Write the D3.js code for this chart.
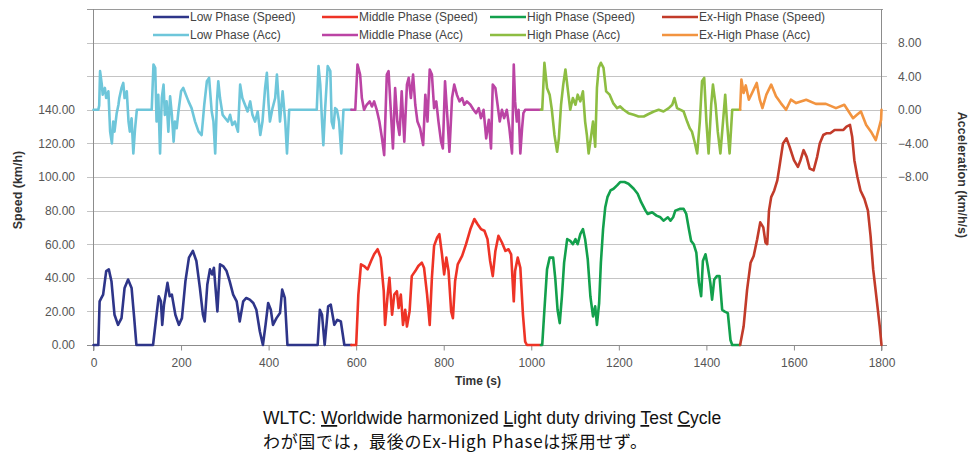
<!DOCTYPE html>
<html><head><meta charset="utf-8">
<script src="https://cdn.jsdelivr.net/npm/d3@7"></script>
<style>body{margin:0;background:#fff}svg{display:block}</style>
</head><body>
<svg id="c" width="971" height="455"></svg>
<script>
const xTicks = [0,200,400,600,800,1000,1200,1400,1600,1800];
const speedTicks = [0,20,40,60,80,100,120,140];
const gridTicks = [0,20,40,60,80,100,120,140,160,180];
const accTicks = [8,4,0,-4,-8];

const lowSpeed = [[0,0],[11,0],[14,26],[18,28],[22,30],[29,44],[35,45],[41,38],[48,18],[56,12],[64,16],[71,34],[79,39],[87,34],[93,16],[98,0],[136,0],[144,18],[149,29],[154,26],[157,12],[161,24],[169,37],[174,29],[179,30],[187,18],[195,12],[202,16],[210,38],[218,52],[227,56],[235,50],[243,34],[250,18],[254,14],[260,36],[266,45],[271,42],[275,46],[283,20],[289,48],[296,47],[304,44],[311,38],[319,30],[327,26],[334,14],[342,26],[349,28],[357,27],[365,25],[372,21],[380,8],[387,0],[393,12],[399,25],[405,21],[410,12],[418,16],[426,19],[431,33],[437,28],[443,0],[512,0],[517,21],[522,18],[528,0],[536,23],[542,24],[550,12],[557,15],[565,14],[573,0],[589,0]];
const middleSpeed = [[589,0],[600,0],[605,30],[611,48],[618,47],[626,45],[634,50],[641,54],[649,57],[656,52],[663,32],[666,12],[672,30],[676,40],[682,18],[687,30],[693,32],[697,22],[702,30],[707,12],[712,21],[716,11],[722,20],[727,41],[735,44],[742,47],[750,49],[755,46],[762,30],[768,12],[773,40],[778,59],[785,64],[790,66],[796,54],[801,42],[806,52],[811,44],[817,20],[821,16],[826,38],[832,48],[842,53],[851,60],[861,69],[870,75],[877,72],[885,69],[893,68],[900,63],[906,50],[912,41],[918,56],[925,65],[933,61],[941,56],[948,57],[954,54],[960,26],[963,44],[969,52],[975,46],[981,18],[986,2],[990,0],[1022,0]];
const highSpeed = [[1022,0],[1025,0],[1030,21],[1036,45],[1042,52],[1050,52],[1055,39],[1060,21],[1065,13],[1070,29],[1075,49],[1082,63],[1089,62],[1095,60],[1101,63],[1106,60],[1112,66],[1118,69],[1123,63],[1129,51],[1135,29],[1141,17],[1146,23],[1150,12],[1155,25],[1159,49],[1164,69],[1169,82],[1174,88],[1181,92],[1188,93],[1196,95],[1203,97],[1213,97],[1222,96],[1234,93],[1243,90],[1251,85],[1261,80],[1266,78],[1276,79],[1286,77],[1295,76],[1302,74],[1312,76],[1318,74],[1324,76],[1329,80],[1339,81],[1348,81],[1354,78],[1360,69],[1365,62],[1371,60],[1377,55],[1383,37],[1388,29],[1392,50],[1398,54],[1403,47],[1409,37],[1413,27],[1418,39],[1424,41],[1430,41],[1436,21],[1441,20],[1449,19],[1455,3],[1459,0],[1477,0]];
const exHighSpeed = [[1477,0],[1485,11],[1493,33],[1501,49],[1508,53],[1516,63],[1523,73],[1530,70],[1535,61],[1539,60],[1543,80],[1548,88],[1555,92],[1562,98],[1568,108],[1575,120],[1583,123],[1590,118],[1600,110],[1609,106],[1615,110],[1622,116],[1629,112],[1636,105],[1645,104],[1653,112],[1659,120],[1667,125],[1674,126],[1683,126],[1693,128],[1702,128],[1713,128],[1720,130],[1728,131],[1733,124],[1738,110],[1745,100],[1752,92],[1761,87],[1769,80],[1775,65],[1781,45],[1789,27],[1796,11],[1800,0]];

const lowAcc = [[0,0],[11,0],[13,0.5],[15,4.6],[19,3],[21,1.8],[26,2.6],[29,1.4],[34,2.2],[38,-2.6],[42,-4],[45,-1.4],[48,-2.6],[53,-0.4],[57,0.6],[59,1.4],[64,2.6],[68,3.2],[71,1.4],[76,2.2],[80,-1.4],[83,-2.6],[87,-1],[91,-5.2],[95,-2.2],[99,0],[133,0],[137,5.4],[141,5],[144,-1.4],[148,1.8],[152,-5.2],[156,1.4],[160,3],[163,-0.6],[167,1],[171,-2.6],[175,1.6],[179,-0.6],[183,-3.8],[186,-1.4],[190,-2.2],[194,-0.2],[200,2.2],[205,2.6],[211,1.8],[217,1],[224,0.2],[232,-1.4],[240,-2.6],[247,-3],[253,0.6],[259,3.4],[264,3.8],[270,-0.2],[274,-1.4],[278,-5.2],[282,1],[285,3.4],[289,1.4],[295,-0.6],[301,-1],[307,-1.4],[312,-0.6],[317,-1.8],[323,-1.4],[330,-2.6],[335,3],[340,1.4],[346,0.6],[352,-0.2],[358,1],[363,-0.6],[369,-1.4],[375,-0.2],[381,-3],[386,-1.4],[392,2.6],[396,4.4],[400,0.6],[403,-1.4],[409,0.2],[415,1.4],[419,4.2],[423,1],[426,-1.4],[432,2.2],[438,-1.4],[442,-5.2],[447,0],[510,0],[514,5.2],[518,3],[522,-1.4],[525,-4.2],[529,0],[535,5.2],[541,4.6],[544,-1.4],[548,-2.2],[552,0.2],[556,0],[561,-1.4],[566,-5.2],[571,0],[589,0]];
const middleAcc = [[589,0],[598,0],[603,5.4],[609,4.2],[613,1.4],[618,0],[624,0.6],[631,1],[636,0.4],[641,1],[647,0],[653,-1.4],[659,-3.4],[664,-5.4],[670,4.2],[674,4.6],[679,0],[684,-4.6],[689,2.6],[694,-1.4],[699,-3],[704,2.2],[710,-3.8],[716,3],[720,3.8],[725,1.4],[730,4.2],[735,0.6],[740,-1.4],[746,-2.2],[753,-4.2],[758,1.8],[763,-1.4],[768,4.8],[773,4.2],[778,0.2],[783,1],[788,-1.4],[794,-3.8],[798,-4.6],[803,3.4],[809,-1.4],[813,-5],[819,1.4],[824,3],[830,1.8],[836,1],[842,1.4],[847,0.6],[853,1],[861,0.6],[868,0],[874,-0.4],[880,0.2],[885,-1],[891,0],[897,-3.4],[903,-1.2],[908,-4.6],[912,3],[918,2.6],[923,0.6],[928,-1.4],[933,0],[938,-1],[944,0],[950,-2.2],[956,-5.2],[960,5.4],[963,1],[967,-1.4],[971,0],[975,-5.2],[979,-2.2],[982,-0.4],[986,0],[1022,0]];
const highAcc = [[1022,0],[1025,0],[1030,5.6],[1036,2.6],[1042,1.8],[1047,0],[1053,-3],[1059,-5],[1063,-3.4],[1068,0.6],[1073,3],[1078,4.8],[1083,2.6],[1089,0],[1095,1.4],[1101,0.6],[1106,1.8],[1112,1],[1118,2.2],[1123,-1.4],[1127,-3],[1131,-5.2],[1137,-3],[1141,-1.4],[1146,-4.4],[1150,2.6],[1154,5],[1159,5.6],[1165,5],[1171,2.2],[1179,1.8],[1187,0.8],[1196,0.2],[1203,0.4],[1211,0],[1222,-0.4],[1234,-0.6],[1245,-0.8],[1257,-0.8],[1268,-0.5],[1280,-0.2],[1291,0],[1302,-0.2],[1314,0.2],[1322,0.6],[1327,1.4],[1333,0.2],[1341,0],[1348,-0.2],[1356,-1.4],[1362,-2.2],[1367,-2.6],[1373,-3.8],[1379,-5.2],[1385,-1.4],[1390,3.4],[1395,3.8],[1400,-1.4],[1405,-5.2],[1411,0.6],[1415,3],[1421,0.6],[1426,-2.6],[1432,-5.2],[1438,-1.4],[1443,1.8],[1447,-1.4],[1453,-5.2],[1459,0],[1477,0]];
const exHighAcc = [[1477,0],[1480,3.6],[1485,2],[1490,2.9],[1497,1.2],[1508,2.4],[1515,3.2],[1522,1.2],[1528,0.2],[1537,1.8],[1548,3],[1559,1.6],[1570,0.8],[1582,0],[1593,1.2],[1605,0.8],[1628,1.2],[1650,0.7],[1673,0.7],[1696,0.2],[1715,0.6],[1735,-1],[1744,-0.6],[1753,-0.2],[1765,-1.8],[1776,-2.6],[1787,-3.6],[1799,-1.2],[1800,0]];

const seriesNames = ["Low Phase (Speed)","Middle Phase (Speed)","High Phase (Speed)","Ex-High Phase (Speed)","Low Phase (Acc)","Middle Phase (Acc)","High Phase (Acc)","Ex-High Phase (Acc)"];
const seriesColors = ["#2e3589","#ee3326","#12a04c","#c23b2a","#6ec6da","#bb44a4","#8dbd42","#f29440"];

const svg = d3.select("#c");
const font = "'Liberation Sans', Arial, sans-serif";
const x = d3.scaleLinear().domain([0,1800]).range([93.5,881.5]);
const yS = d3.scaleLinear().domain([0,200]).range([345,9]);
const yA = d3.scaleLinear().domain([-28,12]).range([345,9]);

// gridlines
svg.append("g").selectAll("line").data(gridTicks).join("line")
  .attr("x1",87).attr("x2",887).attr("y1",d=>Math.round(yS(d))+0.5).attr("y2",d=>Math.round(yS(d))+0.5)
  .attr("stroke",d=>d===0?"#8c8c8c":"#c4c4c4").attr("stroke-width",1);
svg.append("line").attr("x1",87).attr("x2",883).attr("y1",Math.round(yS(200))+0.5).attr("y2",Math.round(yS(200))+0.5).attr("stroke","#9a9a9a");
svg.append("line").attr("x1",93.5).attr("x2",93.5).attr("y1",9).attr("y2",351).attr("stroke","#8c8c8c");
svg.append("line").attr("x1",881.5).attr("x2",881.5).attr("y1",9).attr("y2",351).attr("stroke","#8c8c8c");

// axes
const gx = svg.append("g").attr("transform","translate(0,345.5)")
  .call(d3.axisBottom(x).tickValues(xTicks).tickFormat(d3.format("d")).tickSize(5).tickPadding(8));
const gl = svg.append("g").attr("transform","translate(88,0)")
  .call(d3.axisLeft(yS).tickValues(speedTicks).tickFormat(d3.format(".2f")).tickSize(0).tickPadding(13));
const gr = svg.append("g").attr("transform","translate(888,0)")
  .call(d3.axisRight(yA).tickValues(accTicks).tickFormat(d3.format(".2f")).tickSize(0).tickPadding(10));
[gx,gl,gr].forEach(g=>{
  g.select(".domain").remove();
  g.selectAll(".tick line").attr("stroke","#8c8c8c");
  g.selectAll("text").attr("font-family",font).attr("font-size",12).attr("fill","#555");
});

// series
const lineS = d3.line().x(d=>x(d[0])).y(d=>yS(d[1]));
const lineA = d3.line().x(d=>x(d[0])).y(d=>yA(d[1]));
const speedSets = [lowSpeed,middleSpeed,highSpeed,exHighSpeed];
const accSets = [lowAcc,middleAcc,highAcc,exHighAcc];
const gp = svg.append("g").attr("fill","none").attr("stroke-width",2.6).attr("stroke-linejoin","round").attr("stroke-linecap","round");
accSets.forEach((s,i)=>gp.append("path").attr("d",lineA(s)).attr("stroke",seriesColors[4+i]));
speedSets.forEach((s,i)=>gp.append("path").attr("d",lineS(s)).attr("stroke",seriesColors[i]));

// legend
const legX = [153,322,490,662];
const legY = [17,35];
const lg = svg.append("g");
seriesNames.forEach((n,i)=>{
  const col = i%4, row = Math.floor(i/4);
  const g = lg.append("g").attr("transform",`translate(${legX[col]},${legY[row]})`);
  g.append("line").attr("x1",0).attr("x2",36).attr("stroke",seriesColors[i]).attr("stroke-width",2.6);
  g.append("text").attr("x",37).attr("y",4).attr("font-family",font).attr("font-size",12).attr("fill","#444").text(n);
});

// axis titles
svg.append("text").attr("transform","translate(22,190) rotate(-90)").attr("text-anchor","middle")
  .attr("font-family",font).attr("font-size",12.5).attr("font-weight","bold").attr("fill","#333").text("Speed (km/h)");
svg.append("text").attr("transform","translate(958,175) rotate(90)").attr("text-anchor","middle")
  .attr("font-family",font).attr("font-size",12.5).attr("font-weight","bold").attr("fill","#333").text("Acceleration (km/h/s)");
svg.append("text").attr("x",478).attr("y",385).attr("text-anchor","middle")
  .attr("font-family",font).attr("font-size",12).attr("font-weight","bold").attr("fill","#333").text("Time (s)");

// caption
const t1 = svg.append("text").attr("x",263).attr("y",424).attr("font-family",font).attr("font-size",17.5).attr("fill","#111");
const parts = [["WLTC: ",false],["W",true],["orldwide harmonized ",false],["L",true],["ight duty driving ",false],["T",true],["est ",false],["C",true],["ycle",false]];
parts.forEach(p=>t1.append("tspan").attr("text-decoration",p[1]?"underline":null).text(p[0]));
svg.append("text").attr("x",263).attr("y",448).attr("font-family","'Noto Sans CJK JP', sans-serif").attr("font-size",17)
  .attr("fill","#111").attr("textLength",384).attr("lengthAdjust","spacing").text("わが国では，最後のEx-High Phaseは採用せず。");
</script>
</body></html>
